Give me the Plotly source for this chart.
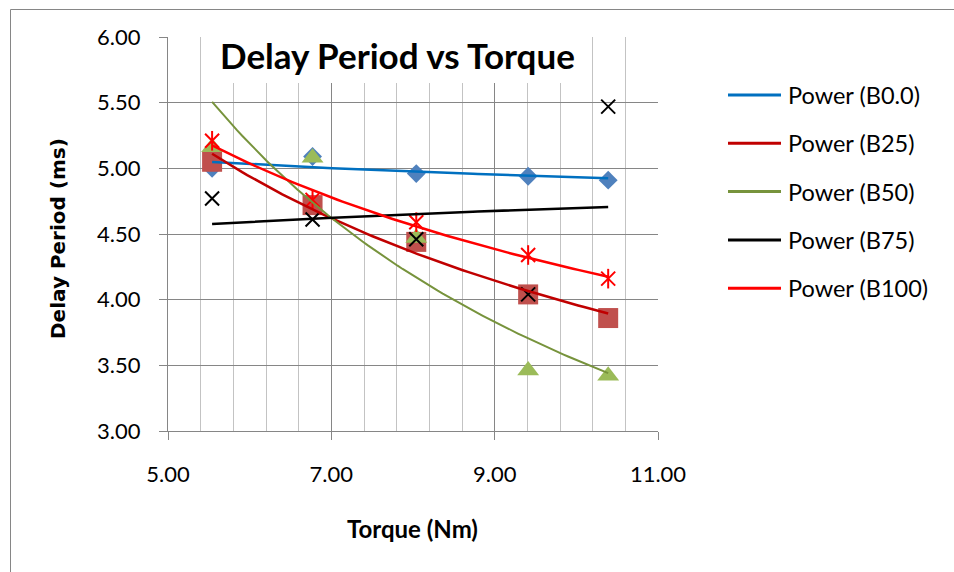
import numpy as np
import plotly.graph_objects as go

# ---- data -------------------------------------------------------------
torque = [5.54, 6.77, 8.04, 9.41, 10.39]
series_names = ["B0.0", "B25", "B50", "B75", "B100"]
delay_b0 = [5.00, 5.09, 4.96, 4.94, 4.91]
delay_b25 = [5.05, 4.72, 4.44, 4.04, 3.86]
delay_b50 = [5.16, 5.08, 4.47, 3.46, 3.42]
delay_b75 = [4.77, 4.61, 4.46, 4.04, 5.47]
delay_b100 = [5.21, 4.76, 4.59, 4.34, 4.16]
x_ticks = [5.0, 7.0, 9.0, 11.0]
y_ticks = [3.0, 3.5, 4.0, 4.5, 5.0, 5.5, 6.0]

delays = [delay_b0, delay_b25, delay_b50, delay_b75, delay_b100]

# ---- styles -----------------------------------------------------------
marker_styles = [
    [dict(symbol="diamond", size=14.5, color="#4F81BD", line=dict(width=0))],
    [dict(symbol="square", size=20, color="#C0504D", line=dict(width=0))],
    [dict(symbol="triangle-up", size=19, color="#9BBB59", line=dict(width=0))],
    [dict(symbol="x-thin-open", size=14, color="#000000",
          line=dict(color="#000000", width=2))],
    [dict(symbol="x-thin-open", size=14, color="#FF0000",
          line=dict(color="#FF0000", width=2)),
     dict(symbol="line-ns-open", size=14, color="#FF0000",
          line=dict(color="#FF0000", width=2))],
]
trend_colors = ["#0070C0", "#C00000", "#77933C", "#000000", "#FF0000"]
trend_widths = [2.5, 2.5, 2.0, 2.5, 2.5]

FONT = "Lato"
GRID_DARK = "#868686"
GRID_LIGHT = "#C3C3C3"

# plot-area edges in pixels
W, H = 954, 572
L, R, T, B = 168, 658, 37, 431


def px_x(p):
    return (p - L) / (R - L)


def px_y(p):
    return (B - p) / (B - T)


def power_trend(x, y):
    """Least-squares power law y = a * x**b, drawn between min and max x."""
    b, ln_a = np.polyfit(np.log(x), np.log(y), 1)
    xs = np.linspace(min(x), max(x), 80)
    return xs, np.exp(ln_a) * xs ** b


fig = go.Figure()

# data markers
for name, y, styles in zip(series_names, delays, marker_styles):
    for st in styles:
        fig.add_trace(go.Scatter(x=torque, y=y, mode="markers", name=name,
                                 marker=st, showlegend=False,
                                 hoverinfo="skip", cliponaxis=False))

# power trendlines
for name, y, col, lw in zip(series_names, delays, trend_colors, trend_widths):
    xs, ys = power_trend(torque, y)
    fig.add_trace(go.Scatter(x=xs, y=ys, mode="lines", name=f"Power ({name})",
                             line=dict(color=col, width=lw), showlegend=False,
                             hoverinfo="skip"))

shapes = []
annotations = []

# outer chart frame
shapes.append(dict(type="rect", xref="paper", yref="paper",
                   x0=px_x(10.5), x1=px_x(1200), y0=px_y(9.5), y1=px_y(800),
                   line=dict(color=GRID_DARK, width=1), fillcolor="rgba(0,0,0,0)",
                   layer="below"))

# title with white backing box over the grid
shapes.append(dict(type="rect", xref="paper", yref="paper",
                   x0=px_x(213), x1=px_x(583), y0=px_y(25), y1=px_y(83),
                   line=dict(width=0), fillcolor="white", layer="above"))
annotations.append(dict(text="<b>Delay Period vs Torque</b>", xref="paper",
                        yref="paper", x=px_x(397), y=px_y(55), xanchor="center",
                        yanchor="middle", showarrow=False,
                        font=dict(family=FONT, size=35, color="#000000")))

# axis titles
annotations.append(dict(text="<b>Torque (Nm)</b>", xref="paper", yref="paper",
                        x=px_x(412), y=px_y(528), xanchor="center",
                        yanchor="middle", showarrow=False,
                        font=dict(family=FONT, size=24, color="#000000")))
annotations.append(dict(text="<b>Delay Period (ms)</b>", xref="paper",
                        yref="paper", x=px_x(58), y=px_y(239), xanchor="center",
                        yanchor="middle", showarrow=False, textangle=-90,
                        font=dict(family="DejaVu Sans", size=20,
                                  color="#000000")))

# legend (trendlines only)
for i, (name, col) in enumerate(zip(series_names, trend_colors)):
    ly = 95 + i * 48.3
    shapes.append(dict(type="line", xref="paper", yref="paper",
                       x0=px_x(728), x1=px_x(781), y0=px_y(ly), y1=px_y(ly),
                       line=dict(color=col, width=3)))
    annotations.append(dict(text=f"Power ({name})", xref="paper", yref="paper",
                            x=px_x(786), y=px_y(ly), xanchor="left",
                            yanchor="middle", showarrow=False,
                            font=dict(family=FONT, size=23.5, color="#000000")))

fig.update_layout(
    width=W, height=H,
    margin=dict(l=L, r=W - R, t=T, b=H - B, pad=0),
    paper_bgcolor="white", plot_bgcolor="white",
    font=dict(family=FONT, size=22, color="#000000"),
    showlegend=False,
    shapes=shapes, annotations=annotations,
    xaxis=dict(range=[5, 11], tickvals=x_ticks,
               ticktext=[f"{v:.2f}" for v in x_ticks],
               showgrid=True, gridcolor=GRID_DARK, gridwidth=1,
               minor=dict(tick0=5, dtick=0.4, showgrid=True,
                          gridcolor=GRID_LIGHT, gridwidth=1, ticks=""),
               showline=True, linecolor=GRID_DARK, linewidth=1,
               ticks="outside", ticklen=8, tickcolor=GRID_DARK,
               ticklabelstandoff=16, zeroline=False,
               tickfont=dict(family=FONT, size=22)),
    yaxis=dict(range=[3, 6], tickvals=y_ticks,
               ticktext=[f"{v:.2f}" for v in y_ticks],
               showgrid=True, gridcolor=GRID_DARK, gridwidth=1,
               showline=True, linecolor=GRID_DARK, linewidth=1,
               ticks="outside", ticklen=8, tickcolor=GRID_DARK,
               ticklabelstandoff=14, zeroline=False,
               tickfont=dict(family=FONT, size=22)),
)

fig.write_html("out.html")
